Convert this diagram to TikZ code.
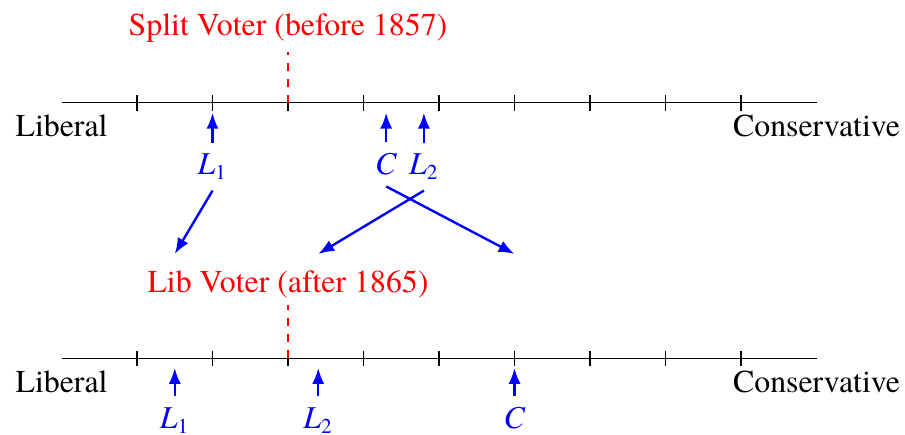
\documentclass[12pt,tikz,border=0pt]{standalone}
\usepackage{fontspec}
\setmainfont{texgyretermes}[Extension=.otf, UprightFont=*-regular,
  ItalicFont=*-italic, BoldFont=*-bold, BoldItalicFont=*-bolditalic]
\usepackage{tikz}
\usetikzlibrary{arrows.meta}
\newcommand{\party}[2]{\textit{#1}\textsubscript{#2}}

\begin{document}
\begin{tikzpicture}[
      scaleline/.style={draw=black},
      cut/.style={draw=red, thick, dashed},
      cutlabel/.style={text=red, anchor=base},
      side/.style={anchor=base},
      party/.style={text=blue, anchor=base},
      pointer/.style={-{Latex[length=6pt, width=4.6pt]}, line width=0.9pt, draw=blue},
      moveto/.style={-{Latex[length=6pt, width=4.6pt]}, line width=0.9pt, draw=blue}]

    \useasboundingbox (-1.815,-4.397) rectangle (10.172,1.364);

    % before 1857
    \draw[scaleline] (-1,0) -- (9,0);
    \foreach \x in {0,...,8}
      \draw[scaleline] (\x,0.1) -- (\x,-0.1);
    \node[side] (lib1) at (-1,-0.45) {Liberal};
    \node[side] (con1) at (9,-0.45) {Conservative};

    \coordinate (v1) at (2,0);
    \coordinate (v1top) at (2,0.68);
    \draw[cut] (v1) -- (v1top);
    \node[cutlabel] (split) at (2,0.89) {Split Voter (before 1857)};

    \node[party] (L1a) at (1,-0.95) {\party{L}{1}};
    \node[party] (Ca) at (3.3,-0.95) {\textit{C}};
    \node[party] (L2a) at (3.8,-0.95) {\party{L}{2}};
    \coordinate (pL1a) at (1,-0.13);
    \coordinate (pCa) at (3.3,-0.13);
    \coordinate (pL2a) at (3.8,-0.13);
    \draw[pointer] (L1a) -- (pL1a);
    \draw[pointer] (Ca) -- (pCa);
    \draw[pointer] (L2a) -- (pL2a);

    % moves
    \coordinate (mL1) at (0.5,-2);
    \coordinate (mL2) at (2.4,-2);
    \coordinate (mC) at (5,-2);
    \draw[moveto] (L1a.south) -- (mL1);
    \draw[moveto] (L2a.south) -- (mL2);
    \draw[moveto] (Ca.south) -- (mC);

    % after 1865
    \draw[scaleline] (-1,-3.38) -- (9,-3.38);
    \foreach \x in {0,...,8}
      \draw[scaleline] (\x,-3.28) -- (\x,-3.48);
    \node[side] (lib2) at (-1,-3.83) {Liberal};
    \node[side] (con2) at (9,-3.83) {Conservative};

    \coordinate (v2) at (2,-3.38);
    \coordinate (v2top) at (2,-2.68);
    \draw[cut] (v2) -- (v2top);
    \node[cutlabel] (lib) at (2,-2.51) {Lib Voter (after 1865)};

    \node[party] (L1b) at (0.5,-4.31) {\party{L}{1}};
    \node[party] (L2b) at (2.4,-4.31) {\party{L}{2}};
    \node[party] (Cb) at (5,-4.31) {\textit{C}};
    \coordinate (pL1b) at (0.5,-3.51);
    \coordinate (pL2b) at (2.4,-3.51);
    \coordinate (pCb) at (5,-3.51);
    \draw[pointer] (L1b) -- (pL1b);
    \draw[pointer] (L2b) -- (pL2b);
    \draw[pointer] (Cb) -- (pCb);
\end{tikzpicture}
\end{document}
